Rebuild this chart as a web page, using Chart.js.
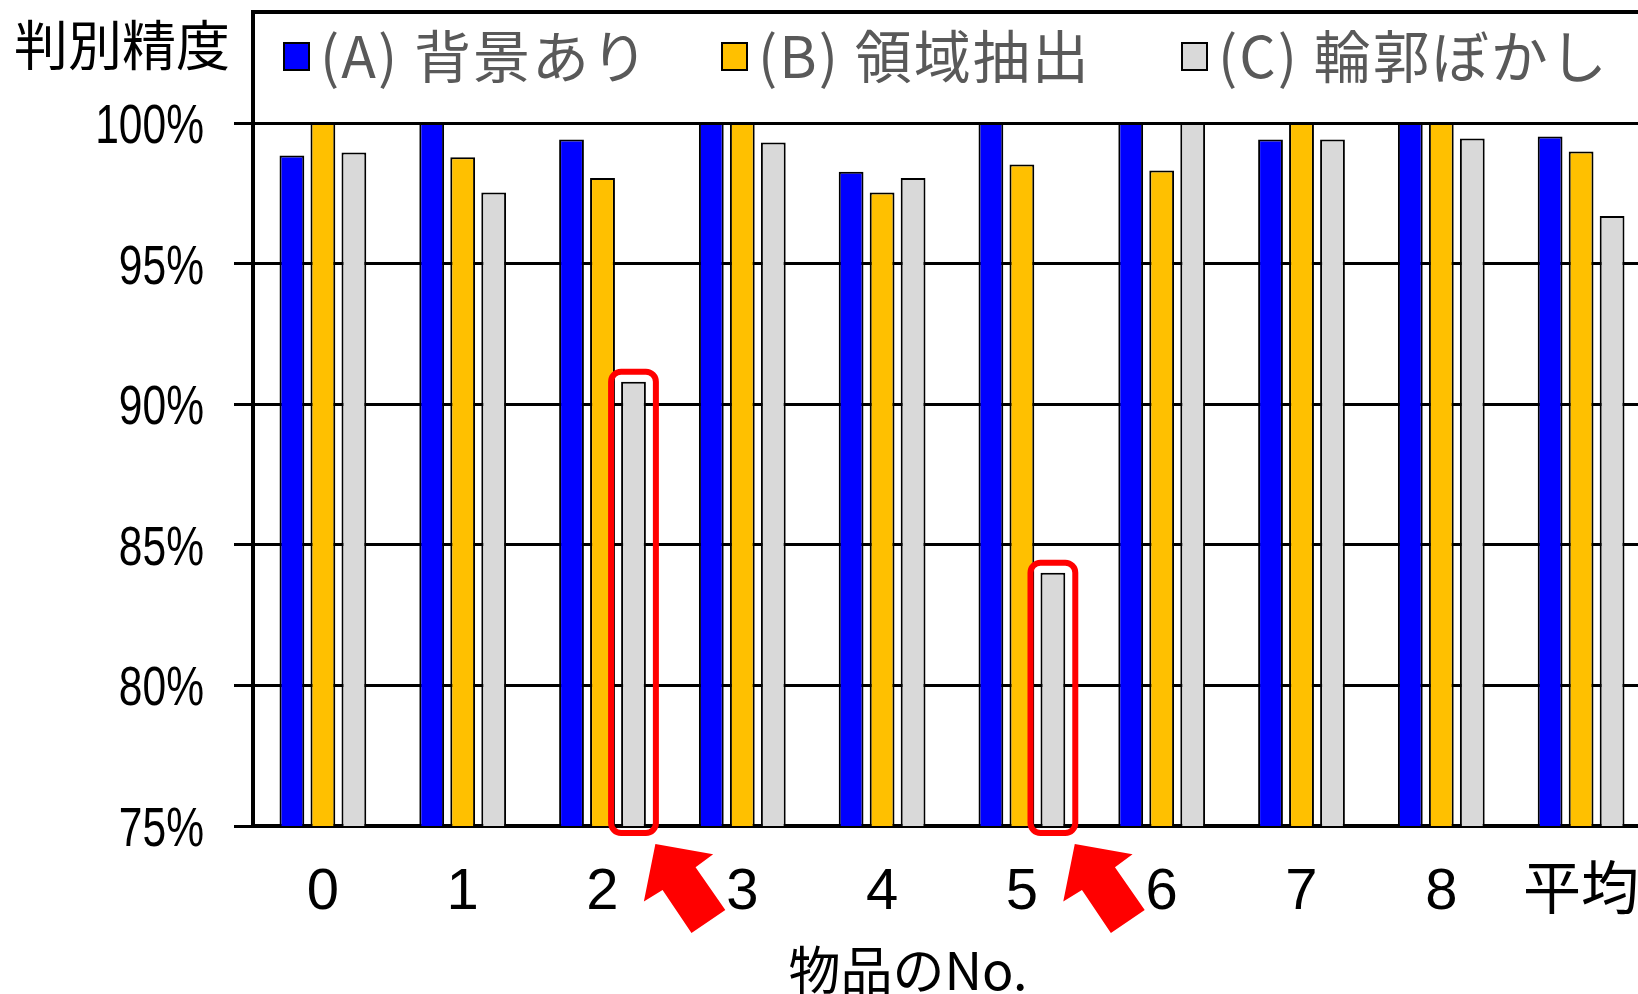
<!DOCTYPE html>
<html>
<head>
<meta charset="utf-8">
<script src="https://cdn.jsdelivr.net/npm/chart.js@4.4.1/dist/chart.umd.min.js"></script>
<style>
  html, body { margin: 0; padding: 0; background: #fff; overflow: hidden; }
  canvas { display: block; }
</style>
</head>
<body>
<canvas id="chart" width="1660" height="994"></canvas>
<script>
// Item numbers along the x axis, plus the overall average
const categories = ['0', '1', '2', '3', '4', '5', '6', '7', '8', '平均'];
const seriesNames = ['(A) 背景あり', '(B) 領域抽出', '(C) 輪郭ぼかし'];

// Discrimination accuracy (%) per item
const withBackground  = [98.84, 100, 99.41, 100, 98.27, 100, 100, 99.41, 100, 99.52];
const regionExtracted = [100, 98.78, 98.04, 100, 97.53, 98.52, 98.31, 100, 100, 98.99];
const contourBlurred  = [98.95, 97.53, 90.80, 99.31, 98.04, 84.01, 100, 99.41, 99.45, 96.69];

const yTicks = [75, 80, 85, 90, 95, 100];
const yTitle = '判別精度';
const xTitle = '物品のNo.';
// items whose (C) bar is called out in red
const calledOut = [2, 5];

const CJK = '"Noto Sans CJK JP", "Noto Sans", sans-serif';

// Percent labels on the y axis, set in a condensed face
const narrowYLabels = {
  id: 'narrowYLabels',
  afterDraw(chart) {
    const { ctx } = chart;
    const y = chart.scales.y;
    ctx.save();
    ctx.fillStyle = '#000';
    ctx.font = '56px "Liberation Sans", Arial, sans-serif';
    ctx.textAlign = 'right';
    ctx.textBaseline = 'middle';
    y.ticks.forEach(t => {
      ctx.save();
      ctx.translate(y.right - 19 - 30, y.getPixelForValue(t.value) + 4.5);
      ctx.scale(0.76, 1);
      ctx.fillText(t.value + '%', 0, 0);
      ctx.restore();
    });
    ctx.restore();
  }
};

// Frame above the plot, legend inside it, and the two axis titles
const frameAndLegend = {
  id: 'frameAndLegend',
  afterDraw(chart) {
    const { ctx, chartArea: a } = chart;
    ctx.save();
    ctx.strokeStyle = '#000';
    ctx.lineWidth = 4;
    ctx.beginPath();
    ctx.moveTo(a.left, a.top);
    ctx.lineTo(a.left, 12);
    ctx.lineTo(a.right + 20, 12);
    ctx.stroke();

    ctx.font = '57px ' + CJK;
    ctx.letterSpacing = '2px';
    ctx.textAlign = 'left';
    ctx.textBaseline = 'alphabetic';
    const itemOffsets = [30, 468, 928];
    const mid = 56.5;
    chart.data.datasets.forEach((ds, k) => {
      const x = a.left + itemOffsets[k];
      ctx.fillStyle = ds.backgroundColor;
      ctx.fillRect(x, mid - 14.5, 27, 29);
      ctx.lineWidth = 2;
      ctx.strokeStyle = '#000';
      ctx.strokeRect(x + 1, mid - 13.5, 25, 27);
      ctx.fillStyle = '#595959';
      ctx.fillText(ds.label, x + 37, 78);
    });
    ctx.letterSpacing = '0px';

    ctx.fillStyle = '#000';
    ctx.font = '54px ' + CJK;
    ctx.fillText(yTitle, 14, 66);
    ctx.font = '52px ' + CJK;
    ctx.textAlign = 'center';
    ctx.fillText(xTitle, 908, 990);
    ctx.restore();
  }
};

// Red rounded boxes and arrows pointing at the weak (C) bars
const callouts = {
  id: 'callouts',
  afterDraw(chart) {
    const { ctx, chartArea: a } = chart;
    const meta = chart.getDatasetMeta(2);
    const dir = { x: 0.564, y: 0.825 };
    const perp = { x: 0.825, y: -0.564 };
    const shape = [[0, 0], [41, 42], [42, 20], [94, 20.5], [94, -20.5], [42, -20], [41, -42]];
    calledOut.forEach(i => {
      const el = meta.data[i];
      const half = el.width / 2;
      const bottom = a.bottom;
      ctx.save();
      ctx.strokeStyle = '#FF0000';
      ctx.lineWidth = 6;
      ctx.beginPath();
      ctx.roundRect(el.x - half - 10, el.y - 10, el.width + 20, bottom - el.y + 17, 10);
      ctx.stroke();

      const tip = { x: el.x + half + 9.5, y: bottom + 18 };
      ctx.fillStyle = '#FF0000';
      ctx.beginPath();
      shape.forEach(([u, v], k) => {
        const px = tip.x + u * dir.x + v * perp.x;
        const py = tip.y + u * dir.y + v * perp.y;
        if (k === 0) ctx.moveTo(px, py); else ctx.lineTo(px, py);
      });
      ctx.closePath();
      ctx.fill();
      ctx.restore();
    });
  }
};

const barStyle = { borderColor: '#000000', borderWidth: 2 };

new Chart(document.getElementById('chart'), {
  type: 'bar',
  data: {
    labels: categories,
    datasets: [
      { label: seriesNames[0], data: withBackground, backgroundColor: '#0000FF', ...barStyle },
      { label: seriesNames[1], data: regionExtracted, backgroundColor: '#FFC000', ...barStyle },
      { label: seriesNames[2], data: contourBlurred, backgroundColor: '#D9D9D9', ...barStyle }
    ]
  },
  options: {
    responsive: false,
    animation: false,
    devicePixelRatio: 1,
    layout: { autoPadding: false, padding: { left: 0, top: 123, right: 9, bottom: 0 } },
    datasets: { bar: { categoryPercentage: 0.665, barPercentage: 0.8 } },
    plugins: { legend: { display: false }, tooltip: { enabled: false } },
    scales: {
      x: {
        grid: { display: false, drawTicks: false },
        border: { color: '#000', width: 4 },
        ticks: {
          color: '#000',
          padding: 32,
          maxRotation: 0,
          autoSkip: false,
          font: { family: '"Liberation Sans", "Noto Sans CJK JP", sans-serif', size: 58 }
        },
        afterFit(s) {
          s.height = 168;
          s.paddingLeft = 0;
          s.paddingRight = 0;
        }
      },
      y: {
        min: 75,
        max: 100,
        grid: { color: '#000', lineWidth: 3, tickLength: 19, tickColor: '#000', tickWidth: 3 },
        border: { color: '#000', width: 4 },
        ticks: { display: false },
        afterBuildTicks(s) { s.ticks = yTicks.map(v => ({ value: v })); },
        afterFit(s) {
          s.width = 253;
          s.paddingTop = 0;
          s.paddingBottom = 0;
        }
      }
    }
  },
  plugins: [narrowYLabels, frameAndLegend, callouts]
});
</script>
</body>
</html>
